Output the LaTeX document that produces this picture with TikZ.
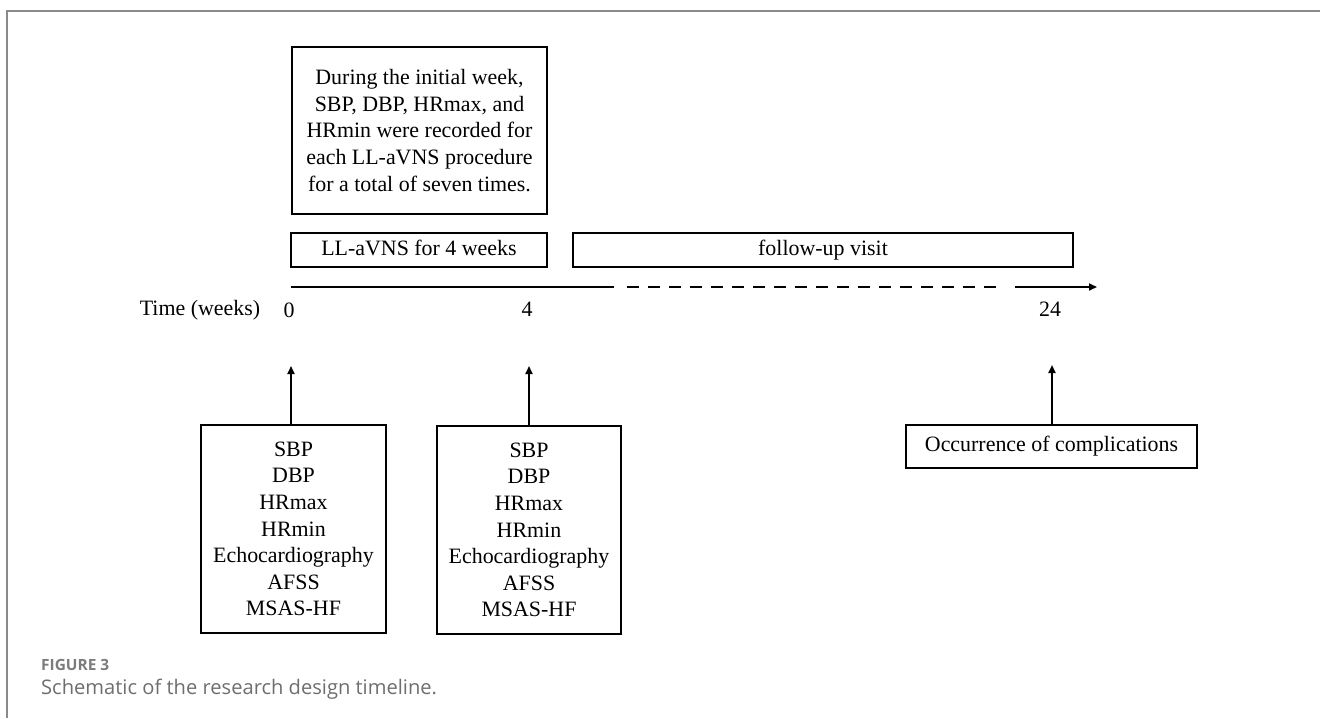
\documentclass[tikz,border=0pt]{standalone}
\usepackage{fontspec}
\setmainfont{Liberation Serif}
\newfontfamily\capfont{Open Sans}
\usetikzlibrary{arrows.meta}
\definecolor{framegray}{HTML}{8A8A8A}
\definecolor{capgray}{HTML}{6E6E6E}
\definecolor{figgray}{HTML}{7C7C7C}
\tikzset{
  box/.style={draw=black, line width=1.8bp, inner sep=0pt, align=center,
              font=\fontsize{22}{26.7}\selectfont},
  onebox/.style={box, text height=15bp, text depth=5bp},
  lbl/.style={inner sep=0pt, font=\fontsize{22}{26.7}\selectfont},
  tline/.style={line width=1.8bp},
  uparrow/.style={line width=1.8bp, -{Triangle[length=8bp,width=7bp]}},
}
\begin{document}
\begin{tikzpicture}[x=1bp,y=-1bp]
\useasboundingbox (0,0) rectangle (1320,718);
% frame
\draw[framegray, line width=1.5bp] (7,718) -- (7,11) -- (1320,11);

% top boxes
\node[box, minimum width=255bp, minimum height=167bp] (note) at (419.5,130.5)
  {During the initial week,\\SBP, DBP, HRmax, and\\HRmin were recorded for\\each LL-aVNS procedure\\for a total of seven times.};
\node[onebox, minimum width=256bp, minimum height=34bp] (ll) at (419,250) {LL-aVNS for 4 weeks};
\node[onebox, minimum width=500bp, minimum height=34bp] (fu) at (823,250) {follow-up visit};

% timeline
\coordinate (tl0) at (291,287);
\coordinate (tl1) at (614,287);
\coordinate (tl2) at (627,287);
\coordinate (tl3) at (1000,287);
\coordinate (tl4) at (1015,287);
\coordinate (tl5) at (1097,287);
\draw[tline] (tl0) -- (tl1);
\draw[tline, dash pattern=on 12bp off 9bp] (tl2) -- (tl3);
\draw[tline, -{Triangle[length=8bp,width=7bp]}] (tl4) -- (tl5);

\node[lbl] (tw) at (200,310) {Time (weeks)};
\node[lbl] (w0) at (289,310) {0};
\node[lbl] (w4) at (527,309) {4};
\node[lbl] (w24) at (1050,309) {24};

% bottom boxes
\node[box, minimum width=185bp, minimum height=208bp] (m0) at (293.5,529)
  {SBP\\DBP\\HRmax\\HRmin\\Echocardiography\\AFSS\\MSAS-HF};
\node[box, minimum width=184bp, minimum height=208bp] (m4) at (529,530)
  {SBP\\DBP\\HRmax\\HRmin\\Echocardiography\\AFSS\\MSAS-HF};
\node[onebox, minimum width=291bp, minimum height=43bp] (oc) at (1051.5,446.5)
  {Occurrence of complications};

\coordinate (a0) at (291,366);
\coordinate (a4) at (529,366);
\coordinate (a24) at (1052,365);
\draw[uparrow] (m0.north -| a0) -- (a0);
\draw[uparrow] (m4.north -| a4) -- (a4);
\draw[uparrow] (oc.north -| a24) -- (a24);

% caption
\node[anchor=west, inner sep=0pt, text=figgray, font=\capfont\bfseries\fontsize{15.5}{17}\selectfont] (fig) at (41,665) {FIGURE 3};
\node[anchor=west, inner sep=0pt, text=capgray, font=\capfont\fontsize{20.2}{23}\selectfont] (cap) at (41,689) {Schematic of the research design timeline.};
\end{tikzpicture}
\end{document}
